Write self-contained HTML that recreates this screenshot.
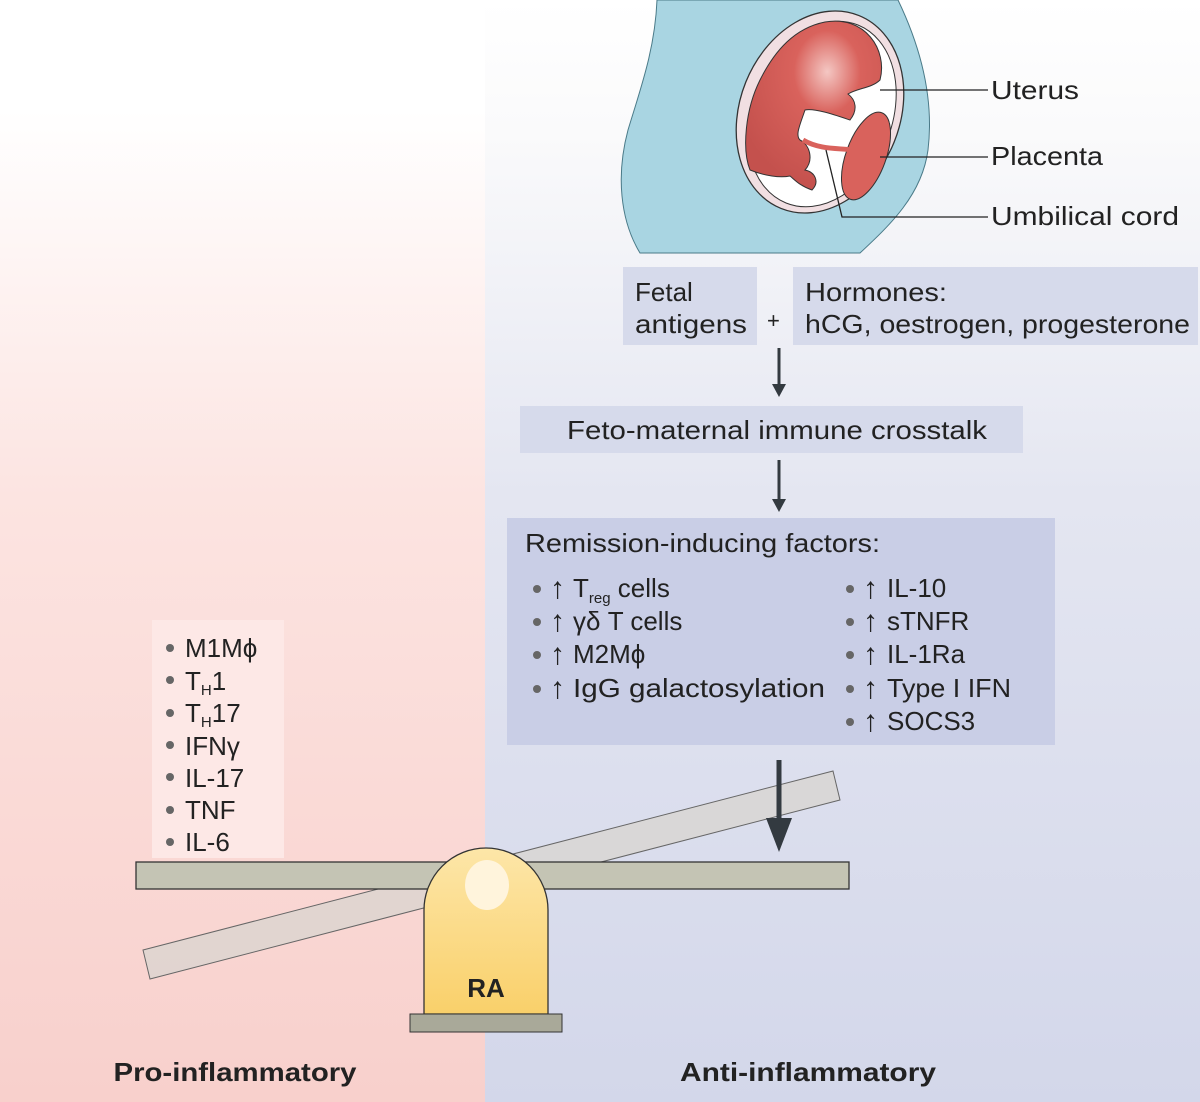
<!DOCTYPE html>
<html><head><meta charset="utf-8"><style>
html,body{margin:0;padding:0;background:#fff}
svg{display:block}
text{font-family:"Liberation Sans",sans-serif;fill:#222}
</style></head><body>
<svg width="1200" height="1102" viewBox="0 0 1200 1102" xmlns="http://www.w3.org/2000/svg">
<defs>
<linearGradient id="lg" x1="0" y1="0" x2="0" y2="1">
<stop offset="0" stop-color="#ffffff"/><stop offset="0.1" stop-color="#ffffff"/><stop offset="0.45" stop-color="#fce4e1"/><stop offset="1" stop-color="#f8d0cc"/></linearGradient>
<linearGradient id="rg" x1="0" y1="0" x2="0" y2="1">
<stop offset="0" stop-color="#ffffff"/><stop offset="0.12" stop-color="#fafafb"/><stop offset="0.45" stop-color="#e4e6f1"/><stop offset="1" stop-color="#d3d7ea"/></linearGradient>
<linearGradient id="dome" x1="0" y1="0" x2="0" y2="1">
<stop offset="0" stop-color="#fde6a8"/><stop offset="1" stop-color="#f9d06a"/></linearGradient>
<radialGradient id="fet" cx="0.6" cy="0.3" r="0.7"><stop offset="0" stop-color="#f4c7c3"/><stop offset="0.35" stop-color="#d9625c"/><stop offset="1" stop-color="#c4514d"/></radialGradient>
</defs>
<rect x="0" y="0" width="485" height="1102" fill="url(#lg)"/>
<rect x="485" y="0" width="715" height="1102" fill="url(#rg)"/>

<!-- uterus -->
<path d="M657,0 C655,50 640,90 628,130 C616,175 620,220 640,253 L860,253 C890,225 922,195 928,150 C934,100 922,50 898,0 Z" fill="#a9d5e2" stroke="#4a7a88" stroke-width="1"/>
<ellipse cx="820" cy="112" rx="80" ry="104" transform="rotate(22 820 112)" fill="#f1dfe2" stroke="#333" stroke-width="1.3"/>
<ellipse cx="822" cy="114" rx="70" ry="96" transform="rotate(22 822 114)" fill="#fff" stroke="#333" stroke-width="1"/>
<path d="M825,22 C865,15 888,50 880,80 C872,88 858,88 848,94 C856,100 858,110 850,120 C835,115 815,108 805,110 C800,125 795,135 800,140 C810,145 814,160 805,170 C815,172 820,182 812,190 C800,186 795,180 790,176 C780,178 765,176 750,170 C742,150 745,110 760,80 C775,50 795,28 825,22 Z" fill="url(#fet)" stroke="#333" stroke-width="1"/>
<ellipse cx="866" cy="156" rx="20" ry="46" transform="rotate(20 866 156)" fill="#d9625c" stroke="#333" stroke-width="1"/>
<path d="M803,140 C820,150 840,148 852,150" fill="none" stroke="#d9625c" stroke-width="5"/>
<line x1="880" y1="90" x2="988" y2="90" stroke="#222" stroke-width="1.3"/>
<line x1="880" y1="157" x2="988" y2="157" stroke="#222" stroke-width="1.3"/>
<polyline points="826,150 842,217 988,217" fill="none" stroke="#222" stroke-width="1.3"/>
<text x="991" y="99" font-size="26" textLength="88" lengthAdjust="spacingAndGlyphs">Uterus</text>
<text x="991" y="165" font-size="26" textLength="112" lengthAdjust="spacingAndGlyphs">Placenta</text>
<text x="991" y="225" font-size="26" textLength="188" lengthAdjust="spacingAndGlyphs">Umbilical cord</text>

<!-- boxes -->
<rect x="623" y="267" width="134" height="78" fill="#d6daeb"/>
<rect x="793" y="267" width="405" height="78" fill="#d6daeb"/>
<text x="635" y="301" font-size="26">Fetal</text>
<text x="635" y="333" font-size="26" textLength="112" lengthAdjust="spacingAndGlyphs">antigens</text>
<text x="767" y="328" font-size="22">+</text>
<text x="805" y="301" font-size="26" textLength="142" lengthAdjust="spacingAndGlyphs">Hormones:</text>
<text x="805" y="333" font-size="26" textLength="385" lengthAdjust="spacingAndGlyphs">hCG, oestrogen, progesterone</text>
<line x1="779" y1="348" x2="779" y2="388" stroke="#333a40" stroke-width="3"/>
<polygon points="772,384 786,384 779,397" fill="#333a40"/>
<rect x="520" y="406" width="503" height="47" fill="#d6daeb"/>
<text x="567" y="439" font-size="26" textLength="420" lengthAdjust="spacingAndGlyphs">Feto-maternal immune crosstalk</text>
<line x1="779" y1="460" x2="779" y2="503" stroke="#333a40" stroke-width="3"/>
<polygon points="772,499 786,499 779,512" fill="#333a40"/>

<rect x="507" y="518" width="548" height="227" fill="#c9cee6"/>
<text x="525" y="552" font-size="26" textLength="355" lengthAdjust="spacingAndGlyphs">Remission-inducing factors:</text>
<g font-size="26">
<g font-size="30">
<text x="550" y="598">↑</text><text x="550" y="631">↑</text><text x="550" y="664">↑</text><text x="550" y="698">↑</text>
<text x="863" y="598">↑</text><text x="863" y="631">↑</text><text x="863" y="664">↑</text><text x="863" y="698">↑</text><text x="863" y="731">↑</text>
</g>
<circle cx="537" cy="589" r="4" fill="#666"/><text x="573" y="597">T<tspan font-size="15" dy="6">reg</tspan><tspan dy="-6"> cells</tspan></text>
<circle cx="537" cy="622" r="4" fill="#666"/><text x="573" y="630">γδ T cells</text>
<circle cx="537" cy="655" r="4" fill="#666"/><text x="573" y="663">M2Mϕ</text>
<circle cx="537" cy="689" r="4" fill="#666"/><text x="573" y="697" textLength="252" lengthAdjust="spacingAndGlyphs">IgG galactosylation</text>
<circle cx="850" cy="589" r="4" fill="#666"/><text x="887" y="597">IL-10</text>
<circle cx="850" cy="622" r="4" fill="#666"/><text x="887" y="630">sTNFR</text>
<circle cx="850" cy="655" r="4" fill="#666"/><text x="887" y="663">IL-1Ra</text>
<circle cx="850" cy="689" r="4" fill="#666"/><text x="887" y="697" textLength="124" lengthAdjust="spacingAndGlyphs">Type I IFN</text>
<circle cx="850" cy="722" r="4" fill="#666"/><text x="887" y="730">SOCS3</text>
</g>

<rect x="152" y="620" width="132" height="238" fill="#fde8e6"/>
<g font-size="26">
<circle cx="170" cy="648" r="4" fill="#666"/><text x="185" y="657">M1Mϕ</text>
<circle cx="170" cy="680" r="4" fill="#666"/><text x="185" y="690">T<tspan font-size="15" dy="5">H</tspan><tspan dy="-5">1</tspan></text>
<circle cx="170" cy="713" r="4" fill="#666"/><text x="185" y="722">T<tspan font-size="15" dy="5">H</tspan><tspan dy="-5">17</tspan></text>
<circle cx="170" cy="745" r="4" fill="#666"/><text x="185" y="755">IFNγ</text>
<circle cx="170" cy="777" r="4" fill="#666"/><text x="185" y="787">IL-17</text>
<circle cx="170" cy="810" r="4" fill="#666"/><text x="185" y="819">TNF</text>
<circle cx="170" cy="842" r="4" fill="#666"/><text x="185" y="851">IL-6</text>
</g>

<!-- seesaw -->
<polygon points="143,950 833,771 840,800 150,979" fill="#d8d4cf" fill-opacity="0.75" stroke="#666" stroke-width="1"/>
<rect x="136" y="862" width="713" height="27" fill="#c4c4b4" stroke="#333" stroke-width="1.3"/>
<line x1="779" y1="760" x2="779" y2="825" stroke="#333a40" stroke-width="5"/>
<polygon points="766,818 792,818 779,852" fill="#333a40"/>
<path d="M424,1014 L424,910 A62,62 0 0 1 548,910 L548,1014 Z" fill="url(#dome)" stroke="#333" stroke-width="1.3"/>
<ellipse cx="487" cy="885" rx="22" ry="25" fill="#fff4dc"/>
<rect x="410" y="1014" width="152" height="18" fill="#a9a999" stroke="#333" stroke-width="1"/>
<text x="486" y="997" font-size="26" font-weight="bold" text-anchor="middle">RA</text>

<text x="235" y="1081" font-size="26" font-weight="bold" text-anchor="middle" textLength="243" lengthAdjust="spacingAndGlyphs">Pro-inflammatory</text>
<text x="808" y="1081" font-size="26" font-weight="bold" text-anchor="middle" textLength="256" lengthAdjust="spacingAndGlyphs">Anti-inflammatory</text>
</svg>
</body></html>
